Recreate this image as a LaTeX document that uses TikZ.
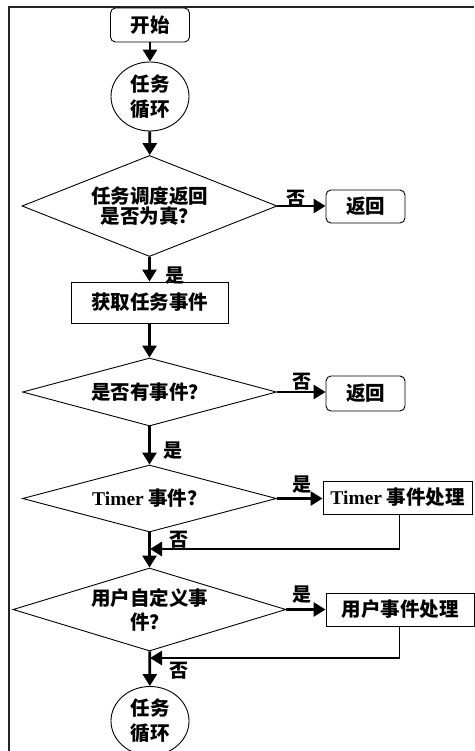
\documentclass[tikz,border=0pt]{standalone}
\usepackage{fontspec}
\usetikzlibrary{shapes.geometric,arrows.meta}
\newfontfamily\cjk{Noto Sans CJK SC}
\newfontfamily\tms{Liberation Serif}
\begin{document}
\begin{tikzpicture}[x=1pt,y=-1pt,
  base/.style={draw=black,line width=0.9pt,font=\cjk\bfseries\fontsize{19.5}{21}\selectfont,inner sep=0pt,align=center},
  term/.style={base,rounded corners=5pt,minimum width=79pt,minimum height=34pt},
  proc/.style={base,minimum height=33pt},
  loopc/.style={base,ellipse,minimum width=78pt,minimum height=69pt,font=\cjk\bfseries\fontsize{19.5}{25}\selectfont},
  dec/.style={base,diamond},
  arr/.style={line width=2.8pt,-{Triangle[width=14pt,length=12pt]}},
  lbl/.style={font=\cjk\bfseries\fontsize{19}{20}\selectfont,inner sep=0pt},
  fline/.style={line width=1pt}]
\useasboundingbox (0,0) rectangle (474,751);
\draw[line width=1.3pt,black!85] (9,751) -- (9,7) -- (474,7);

\node[term] (start) at (150,25) {开始};
\node[loopc] (loop1) at (150,96.5) {任务\\循环};
\node[dec,minimum width=255pt,minimum height=101pt,aspect=2.5,font=\cjk\bfseries\fontsize{19.5}{20}\selectfont] (d1) at (149.5,206) {任务调度返回\\是否为真？};
\node[term,minimum height=33pt] (ret1) at (365.5,206.5) {返回};
\node[proc,minimum width=157pt,minimum height=41pt] (get) at (149.5,302.5) {获取任务事件};
\node[dec,minimum width=254pt,minimum height=68pt,aspect=3.7] (d2) at (149.5,392) {是否有事件？};
\node[term,minimum height=35pt] (ret2) at (365.5,393.5) {返回};
\node[dec,minimum width=254pt,minimum height=67pt,aspect=3.7] (d3) at (149.5,498.5) {{\tms\bfseries Timer} 事件？};
\node[proc,minimum width=149pt] (timer) at (397.5,497.5) {{\tms\bfseries Timer} 事件处理};
\node[dec,minimum width=273pt,minimum height=83pt,aspect=3.3,font=\cjk\bfseries\fontsize{19.5}{24}\selectfont] (d4) at (149.5,609.5) {用户自定义事\\件？};
\node[proc,minimum width=148pt] (user) at (400,609.5) {用户事件处理};
\node[loopc] (loop2) at (150,721) {任务\\循环};

\draw[arr] (start) -- (loop1);
\draw[arr] (loop1) -- (d1);
\draw[arr] (d1.east) -- (ret1.west |- d1.east);
\draw[arr] (d1) -- (get);
\draw[arr] (get) -- (d2);
\draw[arr] (d2.east) -- (ret2.west |- d2.east);
\draw[arr] (d2) -- (d3);
\draw[arr] (d3.east) -- (timer.west |- d3.east);
\draw[arr] (d3) -- (d4);
\draw[arr] (d4.east) -- (user.west |- d4.east);
\draw[arr] (d4) -- (loop2);

\coordinate (c1) at (399,549);
\coordinate (m1) at (150,549);
\draw[fline] (timer.south -| c1) -- (c1);
\draw[arr] ([xshift=1pt]c1) -- (m1);
\coordinate (c2) at (399,658);
\coordinate (m2) at (150,658);
\draw[fline] (user.south -| c2) -- (c2);
\draw[arr] ([xshift=1pt]c2) -- (m2);

\node[lbl] (l1) at (296,199) {否};
\node[lbl] (l2) at (175,276) {是};
\node[lbl] (l3) at (302,382) {否};
\node[lbl] (l4) at (173,451) {是};
\node[lbl] (l5) at (302,485) {是};
\node[lbl] (l6) at (179,540) {否};
\node[lbl] (l7) at (302,595) {是};
\node[lbl] (l8) at (179,671) {否};
\end{tikzpicture}
\end{document}
